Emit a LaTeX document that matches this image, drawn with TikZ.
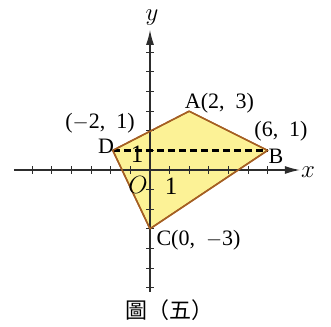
\documentclass[tikz,border=0pt]{standalone}
\usepackage{fontspec}
\setmainfont{Liberation Serif}
\newfontfamily\cjk{Noto Sans CJK TC}
\usetikzlibrary{arrows.meta}
\definecolor{quadfill}{RGB}{252,242,150}
\definecolor{quadedge}{RGB}{165,95,35}
\definecolor{axisgray}{RGB}{45,45,45}
\newcommand{\csp}{,\hspace{0.5em}}
\tikzset{
  axisline/.style={axisgray,line width=1.3pt,-{Latex[length=15pt,width=8pt]}},
  tickmark/.style={axisgray,line width=1pt},
  quad/.style={fill=quadfill,draw=quadedge,line width=1.5pt,line join=round},
  dashline/.style={black,line width=2.5pt,dash pattern=on 7pt off 4pt},
  lbl/.style={inner sep=0pt,font=\fontsize{22}{24}\selectfont},
  biglbl/.style={inner sep=0pt,font=\fontsize{25}{27}\selectfont},
}
\begin{document}
\begin{tikzpicture}[x=19.6pt,y=19.6pt]
\useasboundingbox (-150pt,-156pt) rectangle (181pt,170pt);
\coordinate (A) at (2,3);
\coordinate (B) at (6,1);
\coordinate (C) at (0,-3);
\coordinate (D) at (-1.9,1);
\coordinate (xs) at (-6.95,0);
\coordinate (xe) at (7.65,0);
\coordinate (ys) at (0,-6.2);
\coordinate (ye) at (0,7.15);
\filldraw[quad] (A) -- (B) -- (C) -- (D) -- cycle;
\draw[axisline] (xs) -- (xe);
\draw[axisline] (ys) -- (ye);
\foreach \i in {-6,...,-1,1,2,...,6} {
  \draw[tickmark] (\i,-4pt) -- (\i,4pt);
  \draw[tickmark] (-4pt,\i) -- (4pt,\i);
}
\draw[dashline] (D) -- (B);
\draw[quad,fill=none] (A) -- (B) -- (C) -- (D) -- cycle;
\node[lbl] (lA) at (69.5pt,67pt) {A(2\csp 3)};
\node[lbl] (lD) at (-44pt,24pt) {D};
\node[lbl] (lDc) at (-50pt,47pt) {(\(-\)2\csp 1)};
\node[lbl] (lBc) at (131pt,39pt) {(6\csp 1)};
\node[lbl] (lB) at (126pt,14pt) {B};
\node[lbl] (lC) at (48.5pt,-70pt) {C(0\csp \(-\)3)};
\node[biglbl] (one y) at (-13pt,16pt) {1};
\node[biglbl] (lO) at (-12pt,-15pt) {\(O\)};
\node[biglbl] (one x) at (21pt,-16pt) {1};
\node[biglbl] (lx) at (158pt,-2pt) {\(x\)};
\node[biglbl] (ly) at (2pt,152pt) {\(y\)};
\node[inner sep=0pt,font=\cjk\fontsize{22}{24}\selectfont] (cap) at (19pt,-140pt) {圖（五）};
\end{tikzpicture}
\end{document}
